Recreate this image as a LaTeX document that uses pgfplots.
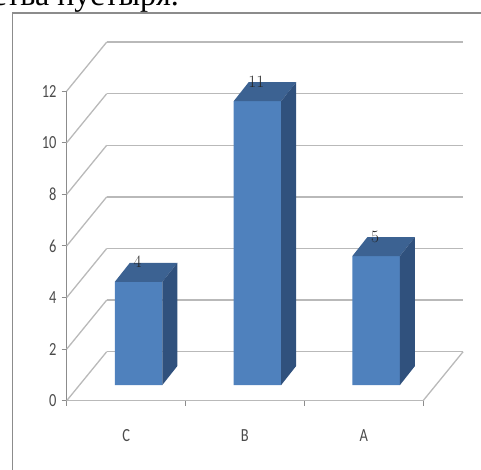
\documentclass[border=0pt]{standalone}
\usepackage{fontspec}
\setmainfont{Liberation Serif}
\newfontfamily\chartfont[FakeStretch=0.78]{Carlito}
\usepackage{pgfplots}
\pgfplotsset{compat=1.18}

\definecolor{barfront}{RGB}{79,129,189}
\definecolor{bartop}{RGB}{60,98,146}
\definecolor{barside}{RGB}{48,81,125}
\definecolor{gridgray}{RGB}{185,185,185}
\definecolor{axisgray}{RGB}{140,140,140}
\definecolor{framegray}{RGB}{140,140,140}
\definecolor{labelgray}{RGB}{75,75,75}

% Top and right faces of a column: the mark sits on the top front edge,
% the face depth is 15pt x 19pt and the column height is value * 25.8pt.
\pgfdeclareplotmark{cuboid}{%
  \pgfmathsetmacro{\barh}{\barval*25.8}%
  \pgfpathmoveto{\pgfpoint{-23.75pt}{0pt}}%
  \pgfpathlineto{\pgfpoint{23.75pt}{0pt}}%
  \pgfpathlineto{\pgfpoint{38.75pt}{19pt}}%
  \pgfpathlineto{\pgfpoint{-8.75pt}{19pt}}%
  \pgfpathclose
  \pgfsetfillcolor{bartop}\pgfusepath{fill}%
  \pgfpathmoveto{\pgfpoint{23.75pt}{0pt}}%
  \pgfpathlineto{\pgfpoint{38.75pt}{19pt}}%
  \pgfpathlineto{\pgfpoint{38.75pt}{19pt-\barh pt}}%
  \pgfpathlineto{\pgfpoint{23.75pt}{-\barh pt}}%
  \pgfpathclose
  \pgfsetfillcolor{barside}\pgfusepath{fill}%
}

\pgfplotsset{
  chartunits/.style={
    x=118.8pt, y=25.8pt,
    xmin=0, xmax=3, ymin=0, ymax=12,
    enlargelimits=false, clip=false,
  },
}

\begin{document}
\begin{tikzpicture}
\useasboundingbox (0pt,0pt) rectangle (481pt,469pt);
\clip (0pt,0pt) rectangle (481pt,469pt);

% caption line of the surrounding text
\node[anchor=base west, inner sep=0pt, font=\fontsize{32}{38}\selectfont]
  at (-8pt,463.5pt) {ства пустыря.};

% chart area border
\draw[framegray, line width=1.2pt] (12.3pt,-2pt) -- (12.3pt,456pt) -- (490pt,456pt);

% back wall with its horizontal gridlines
\begin{axis}[
  chartunits,
  at={(106.7pt,117.3pt)}, anchor=origin,
  axis line style={draw=none},
  tick style={draw=none},
  xtick=\empty,
  ytick={0,2,...,12}, yticklabels={},
  ymajorgrids,
  major grid style={draw=gridgray, line width=1.3pt},
]
\end{axis}

% front plane: value axis, category axis, side wall and floor edges
\begin{axis}[
  chartunits,
  at={(66.7pt,68.3pt)}, anchor=origin,
  axis x line*=bottom, axis y line*=left,
  x axis line style={draw=gridgray, line width=1.3pt, -},
  y axis line style={draw=axisgray, line width=1pt, -},
  tick align=outside,
  major tick length=5pt,
  tick style={draw=axisgray, line width=1pt},
  ytick={0,2,...,12},
  /pgf/number format/assume math mode=true,
  yticklabel style={font=\chartfont\fontsize{18.5}{22}\selectfont,
    text=labelgray, inner sep=0pt, xshift=-5pt},
  xtick={0,1,2,3}, xticklabels={,,,},
  extra x ticks={0.5,1.5,2.5},
  extra x tick labels={C,B,A},
  extra x tick style={major tick length=0pt,
    xticklabel style={font=\chartfont\fontsize{18.5}{22}\selectfont,
      text=labelgray, anchor=north, inner sep=0pt, yshift=-29pt}},
]
\pgfplotsinvokeforeach{0,2,...,12}{
  \draw[gridgray, line width=1.3pt] (axis cs:0,#1) -- ++(40pt,49pt);
}
\draw[gridgray, line width=1.3pt] (axis cs:3,0) -- ++(40pt,49pt);
\end{axis}

% columns
\begin{axis}[
  chartunits,
  at={(79.2pt,84pt)}, anchor=origin,
  hide axis,
]
\addplot[ybar, bar width=47.5pt, fill=barfront, draw=none]
  coordinates {(0.5,4) (1.5,11) (2.5,5)};
\addplot[only marks, mark=cuboid,
  visualization depends on={rawy \as \barval},
  nodes near coords,
  every node near coord/.append style={font=\chartfont\fontsize{18.5}{22}\selectfont,
    text=black!85, anchor=center, yshift=19.5pt, xshift=-1pt, inner sep=0pt},
  ]
  coordinates {(0.5,4) (1.5,11) (2.5,5)};
\end{axis}
\end{tikzpicture}
\end{document}
